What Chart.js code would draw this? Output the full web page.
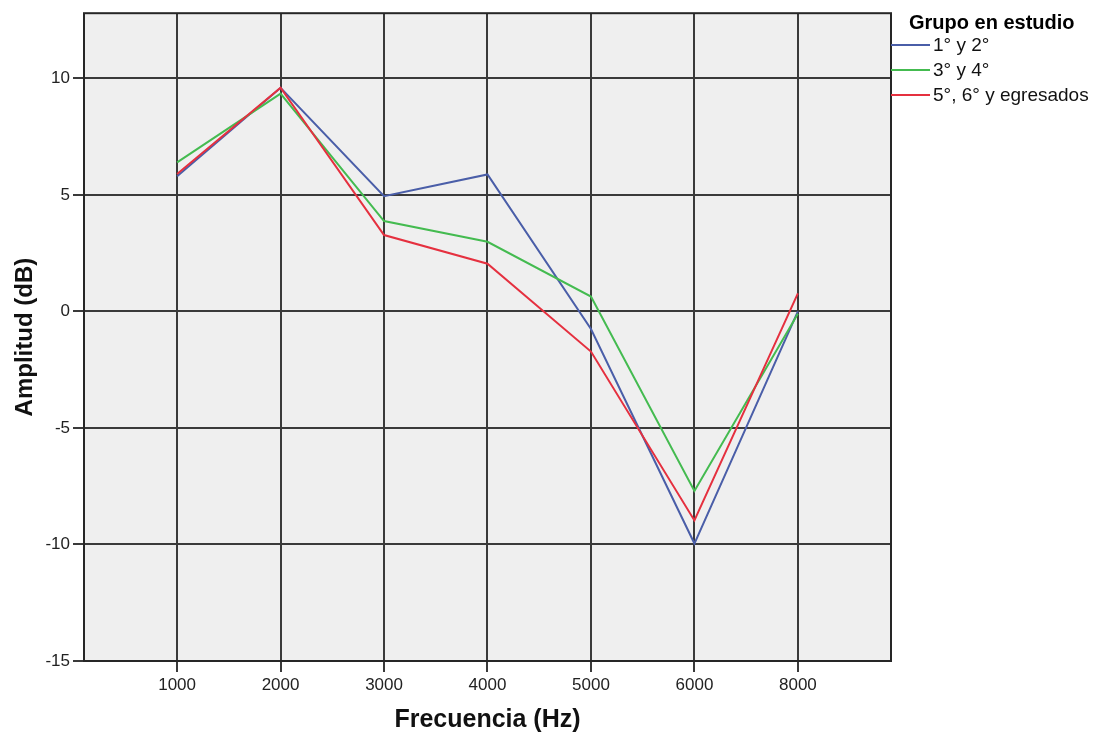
<!DOCTYPE html>
<html lang="es">
<head>
<meta charset="utf-8">
<title>Amplitud por frecuencia</title>
<script src="https://cdn.jsdelivr.net/npm/chart.js@4/dist/chart.umd.min.js"></script>
<style>
  html, body { margin: 0; padding: 0; background: #ffffff; }
  #wrap { width: 1103px; height: 742px; }
</style>
</head>
<body>
<div id="wrap"><canvas id="chart" width="1103" height="742"></canvas></div>
<script>
// ── Data ─────────────────────────────────────────────────────────────────────
const FRECUENCIAS = ["1000", "2000", "3000", "4000", "5000", "6000", "8000"];
const Y_TICKS = [-15, -10, -5, 0, 5, 10];

const GRUPO_1_2 = [5.8, 9.6, 4.95, 5.88, -0.75, -9.96, 0.0];
const GRUPO_3_4 = [6.4, 9.35, 3.88, 2.99, 0.64, -7.7, -0.1];
const GRUPO_5_6 = [5.9, 9.6, 3.28, 2.05, -1.72, -8.97, 0.78];

const SERIES_LABELS = ["1° y 2°", "3° y 4°", "5°, 6° y egresados"];
const SERIES_COLORS = ["#4a5ea8", "#44bb50", "#e5303f"];
const LEGEND_TITLE = "Grupo en estudio";

const FONT = "'Liberation Sans', Arial, sans-serif";

// ── Helpers ──────────────────────────────────────────────────────────────────
function toPoints(values) {
  return values.map((v, i) => ({ x: i, y: v }));
}

// ── Plugins ──────────────────────────────────────────────────────────────────
const plotFrame = {
  id: "plotFrame",
  beforeDraw(chart) {
    const { ctx, chartArea: a } = chart;
    ctx.save();
    ctx.fillStyle = "#efefef";
    ctx.fillRect(a.left, a.top, a.right - a.left, a.bottom - a.top);
    ctx.restore();
  },
  afterDraw(chart) {
    const { ctx, chartArea: a } = chart;
    ctx.save();
    ctx.strokeStyle = "#262626";
    ctx.lineWidth = 2;
    ctx.strokeRect(a.left, a.top, a.right - a.left, a.bottom - a.top);
    ctx.restore();
  },
};

const groupLegend = {
  id: "groupLegend",
  afterDraw(chart) {
    const { ctx, chartArea: a } = chart;
    ctx.save();
    ctx.textBaseline = "middle";
    ctx.textAlign = "left";
    ctx.fillStyle = "#000";
    ctx.font = `bold 20px ${FONT}`;
    ctx.fillText(LEGEND_TITLE, a.right + 18, 23);
    ctx.font = `19px ${FONT}`;
    chart.data.datasets.forEach((ds, i) => {
      const y = 45 + i * 25;
      ctx.strokeStyle = ds.borderColor;
      ctx.lineWidth = 2;
      ctx.beginPath();
      ctx.moveTo(a.right, y);
      ctx.lineTo(a.right + 39, y);
      ctx.stroke();
      ctx.fillStyle = "#111";
      ctx.fillText(ds.label, a.right + 42, y + 1);
    });
    ctx.restore();
  },
};

// ── Chart ────────────────────────────────────────────────────────────────────
const seriesValues = [GRUPO_1_2, GRUPO_3_4, GRUPO_5_6];

new Chart(document.getElementById("chart").getContext("2d"), {
  type: "line",
  data: {
    datasets: seriesValues.map((vals, i) => ({
      label: SERIES_LABELS[i],
      data: toPoints(vals),
      borderColor: SERIES_COLORS[i],
      backgroundColor: SERIES_COLORS[i],
      borderWidth: 2,
      pointRadius: 0,
      tension: 0,
      fill: false,
      order: seriesValues.length - i,
    })),
  },
  options: {
    responsive: false,
    animation: false,
    layout: { padding: { top: 10, right: 212, bottom: 0, left: 0 } },
    plugins: {
      legend: { display: false },
      tooltip: { enabled: false },
    },
    scales: {
      x: {
        type: "linear",
        min: -0.9,
        max: 6.9,
        afterBuildTicks: (s) => { s.ticks = FRECUENCIAS.map((_, i) => ({ value: i })); },
        afterFit: (s) => { s.height = 81; },
        ticks: {
          autoSkip: false,
          maxRotation: 0,
          padding: 3,
          color: "#222",
          font: { family: FONT, size: 17 },
          callback: (v) => FRECUENCIAS[v],
        },
        grid: { color: "#3a3a3a", lineWidth: 2, tickLength: 11, tickColor: "#3a3a3a" },
        border: { display: false },
        title: {
          display: true,
          text: "Frecuencia (Hz)",
          color: "#111",
          font: { family: FONT, size: 25, weight: "bold" },
          padding: { top: 0, bottom: 7 },
        },
      },
      y: {
        min: -15,
        max: 12.8,
        afterBuildTicks: (s) => { s.ticks = Y_TICKS.map((v) => ({ value: v })); },
        afterFit: (s) => { s.width = 84; },
        ticks: {
          padding: 3,
          color: "#222",
          font: { family: FONT, size: 17 },
        },
        grid: { color: "#3a3a3a", lineWidth: 2, tickLength: 11, tickColor: "#3a3a3a" },
        border: { display: false },
        title: {
          display: true,
          text: "Amplitud (dB)",
          color: "#111",
          font: { family: FONT, size: 24, weight: "bold" },
          padding: { top: 11, bottom: 0 },
        },
      },
    },
  },
  plugins: [plotFrame, groupLegend],
});
</script>
</body>
</html>
